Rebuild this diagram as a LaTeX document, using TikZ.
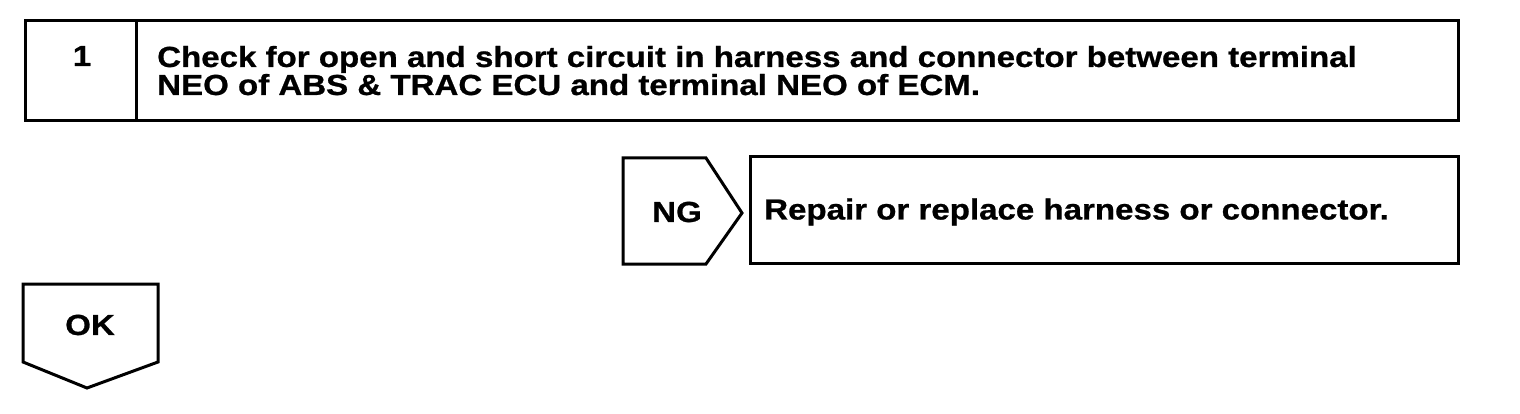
\documentclass[tikz,border=0pt]{standalone}
\usepackage{fontspec}
\setmainfont{Liberation Sans}[FakeStretch=1.14, BoldFeatures={FakeBold=0.8}]
\begin{document}
\begin{tikzpicture}[x=1pt,y=-1pt,
  frame/.style={draw=black, line width=3pt, line join=miter},
  lbl/.style={inner sep=0pt, font=\fontsize{29}{27}\selectfont\bfseries}]
\useasboundingbox (0,0) rectangle (1520,414);
% step 1 box
\draw[frame] (25,21) rectangle (1458,121);
\draw[frame] (136,21) -- (136,121);
\node[lbl, anchor=base] (num) at (82,66) {1};
\node[lbl, anchor=base west, align=left] (check) at (157,95)
  {Check for open and short circuit in harness and connector between terminal\\NEO of ABS \& TRAC ECU and terminal NEO of ECM.};
% NG
\draw[frame] (623,158) -- (706,158) -- (742,213) -- (706,264) -- (623,264) -- cycle;
\node[lbl] (ng) at (677,212) {NG};
\draw[frame] (750,157) rectangle (1458,263);
\node[lbl, anchor=west] (repair) at (764,212) {Repair or replace harness or connector.};
% OK
\draw[frame] (23,284) -- (158,284) -- (158,362) -- (87,388) -- (23,362) -- cycle;
\node[lbl] (ok) at (90,325) {OK};
\end{tikzpicture}
\end{document}
